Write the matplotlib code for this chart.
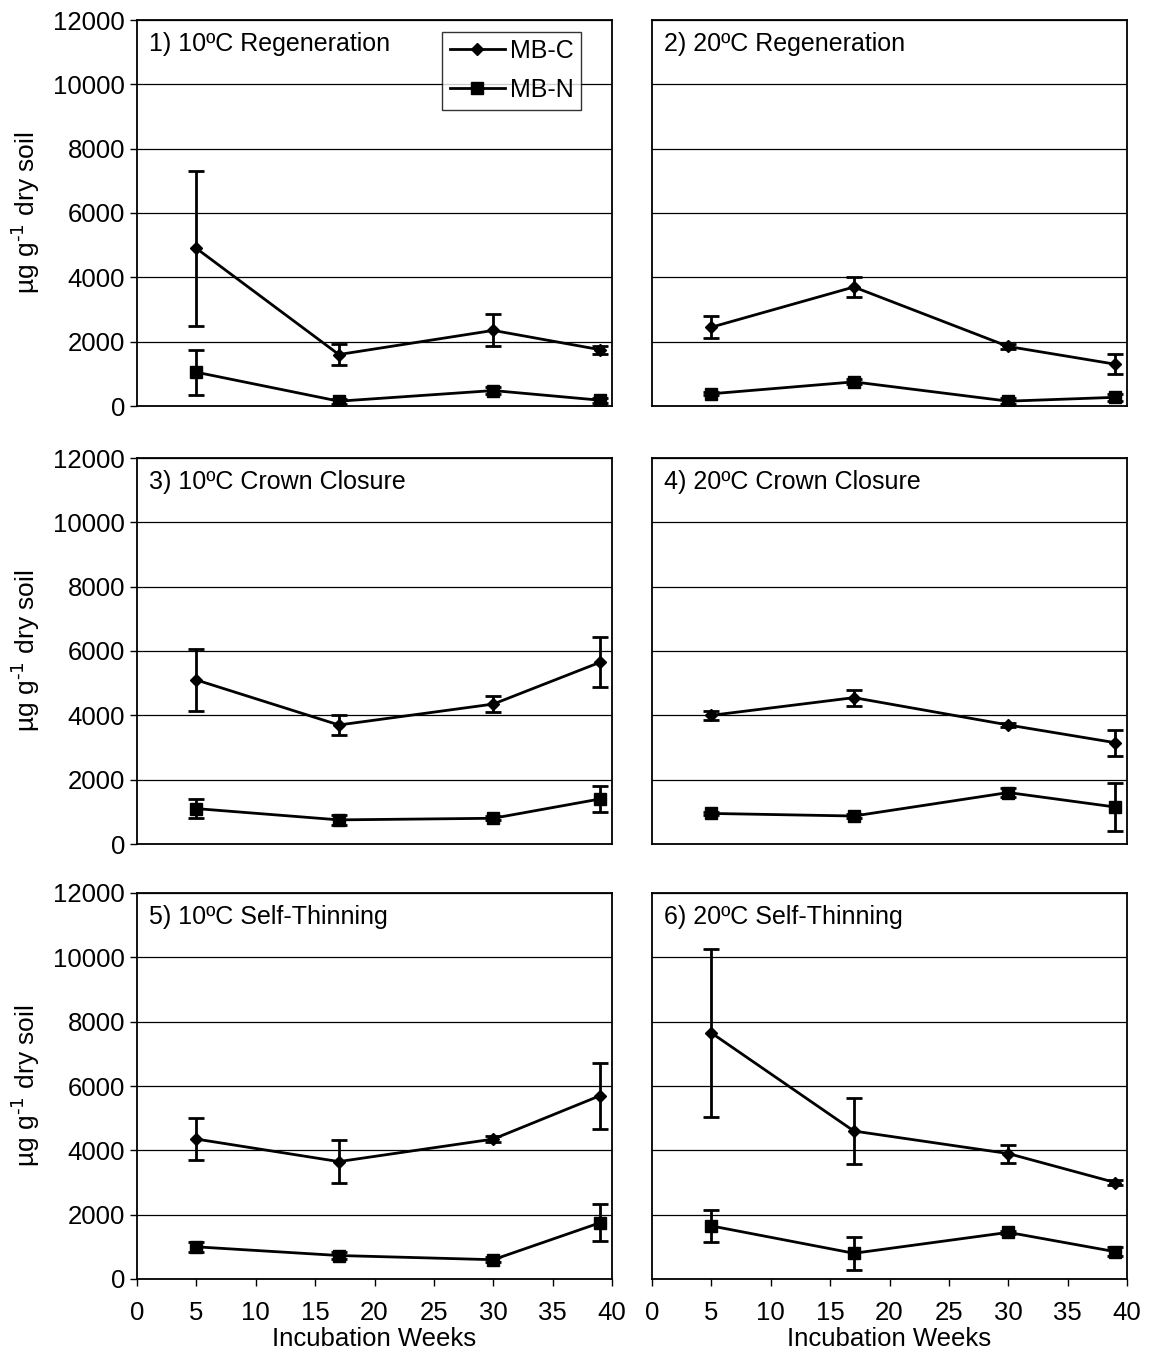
import matplotlib
matplotlib.use("Agg")
import matplotlib.pyplot as plt
from matplotlib.lines import Line2D
import numpy as np

plt.rcParams['font.family'] = ['Liberation Sans', 'DejaVu Sans']

weeks = [5, 17, 30, 39]
titles = ["1) 10ºC Regeneration", "2) 20ºC Regeneration",
          "3) 10ºC Crown Closure", "4) 20ºC Crown Closure",
          "5) 10ºC Self-Thinning", "6) 20ºC Self-Thinning"]

mbc = [[4900, 1600, 2350, 1750],
       [2450, 3700, 1850, 1300],
       [5100, 3700, 4350, 5650],
       [4000, 4550, 3700, 3150],
       [4350, 3650, 4350, 5700],
       [7650, 4600, 3900, 3000]]
mbc_err = [[2400, 320, 500, 130],
           [350, 300, 80, 320],
           [950, 320, 250, 780],
           [150, 250, 60, 400],
           [650, 670, 100, 1030],
           [2600, 1020, 280, 80]]
mbn = [[1050, 150, 480, 180],
       [380, 750, 150, 270],
       [1100, 750, 800, 1400],
       [950, 870, 1600, 1150],
       [1000, 730, 600, 1750],
       [1650, 800, 1450, 850]]
mbn_err = [[700, 80, 100, 80],
           [50, 80, 100, 100],
           [300, 150, 60, 400],
           [50, 70, 150, 750],
           [150, 120, 80, 570],
           [500, 520, 50, 150]]

W, H = 1149, 1358
fig = plt.figure(figsize=(W/100, H/100), dpi=100)

lefts = [137, 652]
tops = [20, 458, 893]
aw, ah = 475, 386

for i in range(6):
    r, c = divmod(i, 2)
    ax = fig.add_axes([lefts[c]/W, 1 - (tops[r]+ah)/H, aw/W, ah/H])
    ax.set_xlim(0, 40)
    ax.set_ylim(0, 12000)
    ax.set_yticks(np.arange(0, 12001, 2000))
    ax.set_xticks(np.arange(0, 41, 5))
    ax.grid(axis='y', color='black', linewidth=0.9)
    ax.set_axisbelow(True)
    for s in ax.spines.values():
        s.set_linewidth(1.3)
    ax.errorbar(weeks, mbc[i], yerr=mbc_err[i], color='black', marker='D',
                markersize=6, linewidth=2.0, elinewidth=2.0, capsize=6,
                capthick=2.0)
    ax.errorbar(weeks, mbn[i], yerr=mbn_err[i], color='black', marker='s',
                markersize=8, linewidth=2.0, elinewidth=2.0, capsize=6,
                capthick=2.0)
    ax.text(0.025, 0.97, titles[i], transform=ax.transAxes, ha='left', va='top',
            fontsize=18)
    ax.tick_params(axis='both', direction='out', labelsize=18.5, width=1, length=5)
    ax.tick_params(axis='x', pad=11)
    if c == 0:
        ax.set_ylabel("µg g$^{\\text{-1}}$ dry soil", fontsize=19, labelpad=8)
    else:
        ax.tick_params(axis='y', left=False, labelleft=False)
    if r == 2:
        ax.set_xlabel("Incubation Weeks", fontsize=18.5, labelpad=1)
    else:
        ax.tick_params(axis='x', bottom=False, labelbottom=False)
    if i == 0:
        handles = [Line2D([], [], color='black', marker='D', markersize=6, linewidth=2.0),
                   Line2D([], [], color='black', marker='s', markersize=8, linewidth=2.0)]
        leg = ax.legend(handles, ['MB-C', 'MB-N'], loc='upper right',
                        bbox_to_anchor=(0.935, 0.97),
                        fontsize=18, frameon=True, fancybox=False,
                        edgecolor='black', handlelength=2.2, borderpad=0.3,
                        handletextpad=0.2, labelspacing=0.6, borderaxespad=0)
        leg.get_frame().set_linewidth(1.0)

fig.savefig("out.png", dpi=100, facecolor='white')
